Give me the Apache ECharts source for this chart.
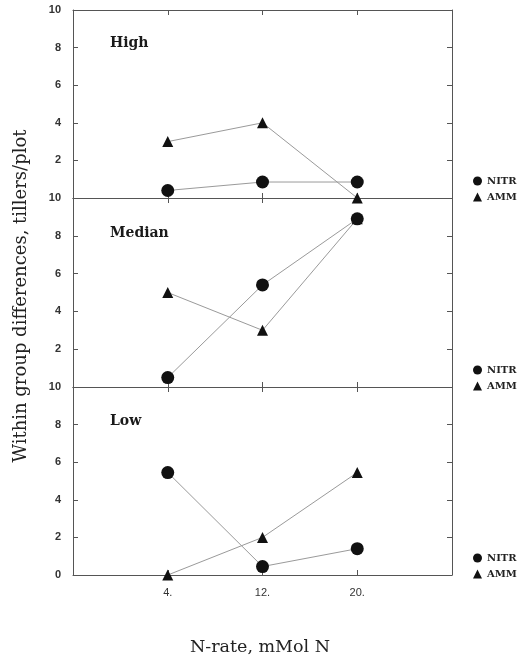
<!DOCTYPE html>
<html>
<head>
<meta charset="utf-8">
<script src="https://cdn.jsdelivr.net/npm/echarts@6/dist/echarts.min.js"></script>
<style>html,body{margin:0;padding:0;background:#fff}#c{width:527px;height:658px}</style>
</head>
<body>
<div id="c"></div>
<script>
// ---- data ----
var nRate = [4, 12, 20];
var xTickValues = [4, 12, 20];
var xTickLabels = ['4.', '12.', '20.'];
var yTickValues = [0, 2, 4, 6, 8, 10];
var panelNames = ['High', 'Median', 'Low'];
var highNitr = [0.4, 0.85, 0.85];
var highAmm = [3, 4, 0];
var medianNitr = [0.5, 5.4, 8.9];
var medianAmm = [5, 3, 8.9];
var lowNitr = [5.45, 0.45, 1.4];
var lowAmm = [0, 2, 5.45];

var nitrSets = [highNitr, medianNitr, lowNitr];
var ammSets = [highAmm, medianAmm, lowAmm];

// ---- layout ----
var panelTops = [10, 198, 387];
var panelHeights = [188, 189, 188];
var axisCol = '#555';
var lineCol = '#9a9a9a';
var markCol = '#111';
var serif = '"DejaVu Serif", serif';

function pairs(vals) { return nRate.map(function (x, i) { return [x, vals[i]]; }); }

var grids = [], xAxes = [], yAxes = [], series = [], legends = [], graphics = [];
for (var p = 0; p < 3; p++) {
  grids.push({ left: 73, right: 75, top: panelTops[p], height: panelHeights[p], containLabel: false });
  var isLow = p === 2;
  xAxes.push({
    type: 'value', gridIndex: p, min: -4, max: 28, position: 'bottom',
    axisLine: { show: true, onZero: false, lineStyle: { color: axisCol, width: 1 } },
    axisTick: { show: true, inside: true, length: 5, customValues: xTickValues, lineStyle: { color: axisCol } },
    axisLabel: {
      show: isLow, customValues: xTickValues, margin: 12,
      formatter: function (v) { var i = xTickValues.indexOf(v); return i >= 0 ? xTickLabels[i] : ''; },
      color: '#333', fontSize: 11, fontFamily: '"Liberation Sans", sans-serif'
    },
    splitLine: { show: false }
  });
  xAxes.push({
    type: 'value', gridIndex: p, min: -4, max: 28, position: 'top',
    axisLine: { show: true, onZero: false, lineStyle: { color: axisCol, width: 1 } },
    axisTick: { show: true, inside: true, length: 5, customValues: xTickValues, lineStyle: { color: axisCol } },
    axisLabel: { show: false },
    splitLine: { show: false }
  });
  var labVals = isLow ? yTickValues : yTickValues.slice(1);
  yAxes.push({
    type: 'value', gridIndex: p, min: 0, max: 10, interval: 2, position: 'left',
    axisLine: { show: true, onZero: false, lineStyle: { color: axisCol, width: 1 } },
    axisTick: { show: true, inside: true, length: 5, lineStyle: { color: axisCol } },
    axisLabel: {
      show: true, customValues: labVals, margin: 12,
      color: '#333', fontSize: 11, fontWeight: 'bold', fontFamily: '"Liberation Sans", sans-serif'
    },
    splitLine: { show: false }
  });
  yAxes.push({
    type: 'value', gridIndex: p, min: 0, max: 10, interval: 2, position: 'right',
    axisLine: { show: true, onZero: false, lineStyle: { color: axisCol, width: 1 } },
    axisTick: { show: true, inside: true, length: 5, lineStyle: { color: axisCol } },
    axisLabel: { show: false },
    splitLine: { show: false }
  });
  series.push({
    name: 'AMM', type: 'line', xAxisIndex: 2 * p, yAxisIndex: 2 * p,
    data: pairs(ammSets[p]), symbol: 'triangle', symbolSize: 11, clip: false,
    itemStyle: { color: markCol }, lineStyle: { color: lineCol, width: 1 },
    emphasis: { disabled: true }, animation: false, z: 3
  });
  series.push({
    name: 'NITR', type: 'line', xAxisIndex: 2 * p, yAxisIndex: 2 * p,
    data: pairs(nitrSets[p]), symbol: 'circle', symbolSize: 13, clip: false,
    itemStyle: { color: markCol }, lineStyle: { color: lineCol, width: 1 },
    emphasis: { disabled: true }, animation: false, z: 4
  });
  var bottom = panelTops[p] + panelHeights[p];
  legends.push({
    orient: 'vertical', left: 468, top: bottom - 27, itemWidth: 9, itemHeight: 9, itemGap: 6,
    selectedMode: false,
    data: [{ name: 'NITR', icon: 'circle' }, { name: 'AMM', icon: 'triangle' }],
    textStyle: { color: '#222', fontSize: 10, fontWeight: 'bold', fontFamily: serif }
  });
  graphics.push({
    type: 'text', left: 110, top: panelTops[p] + [26, 28, 27][p],
    style: { text: panelNames[p], fill: '#1a1a1a', font: 'bold 14px ' + serif }
  });
}

graphics.push({
  type: 'text', x: 21, y: 296, rotation: Math.PI / 2,
  style: { text: 'Within group differences, tillers/plot', fill: '#222', font: '18px ' + serif,
    textAlign: 'center', textVerticalAlign: 'middle' }
});
graphics.push({
  type: 'text', x: 260, y: 647,
  style: { text: 'N-rate, mMol N', fill: '#222', font: '17.5px ' + serif,
    textAlign: 'center', textVerticalAlign: 'middle' }
});

var chart = echarts.init(document.getElementById('c'), null, { renderer: 'canvas' });
chart.setOption({
  backgroundColor: '#fff',
  animation: false,
  grid: grids,
  xAxis: xAxes,
  yAxis: yAxes,
  legend: legends,
  series: series,
  graphic: graphics
});
</script>
</body>
</html>
